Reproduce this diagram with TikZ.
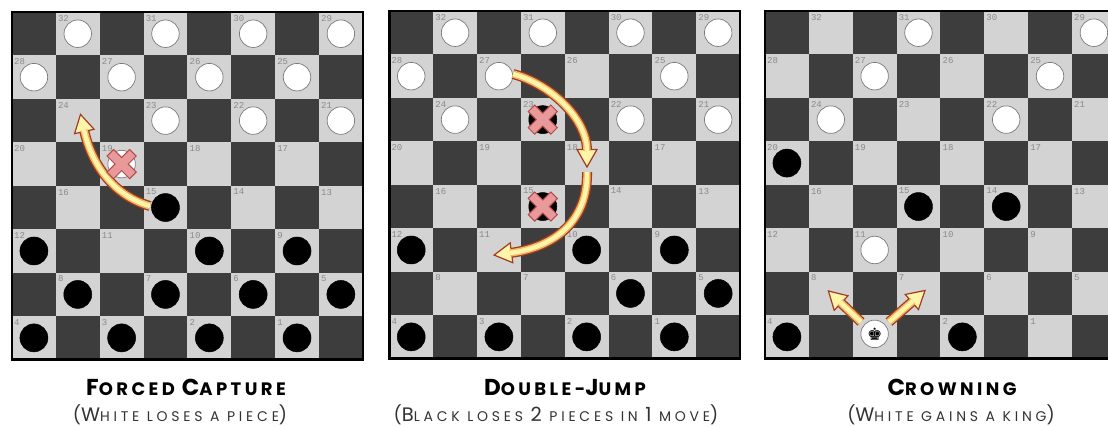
\documentclass[tikz,border=0pt]{standalone}
\usepackage{fontspec}
\setmainfont{Poppins}
\newfontfamily\numfont{Liberation Mono}
\newfontfamily\symfont{DejaVu Sans}
\usetikzlibrary{calc}
\definecolor{darksq}{HTML}{3D3D3D}
\definecolor{lightsq}{HTML}{D3D3D3}
\definecolor{numgray}{HTML}{8A8A8A}
\definecolor{arwedge}{HTML}{A33A22}
\definecolor{arwmid}{HTML}{F0B860}
\definecolor{arwin}{HTML}{FFF5AA}
\definecolor{xfill}{HTML}{E89A9A}
\definecolor{xedge}{HTML}{B54848}
\definecolor{wedge}{HTML}{7A7A7A}

\def\sqw{43.85}
\def\sqh{43.45}

\tikzset{
  numlabel/.style={anchor=north west, inner sep=0pt, text=numgray,
    font=\numfont\fontsize{9}{9}\selectfont},
  boardframe/.style={draw=black, line width=2.5pt},
  wpiece/.style={circle, minimum size=27.5pt, inner sep=0pt, fill=white, draw=wedge, line width=0.7pt},
  bpiece/.style={circle, minimum size=28pt, inner sep=0pt, fill=black, draw=black, line width=0.5pt},
  xmk/.style={fill=xfill, draw=xedge, line width=1pt, line join=miter},
  ttl/.style={anchor=base, inner sep=0pt, font=\bfseries\addfontfeatures{LetterSpace=19}},
  subttl/.style={anchor=base, inner sep=0pt, text=black!80, font=\addfontfeatures{LetterSpace=27}},
}

\newcommand\checkerboard[3]{%
  \fill[darksq] (#1,#2) rectangle ++(8*\sqw,8*\sqh);
  \foreach \ri in {0,...,7}{%
    \foreach \ci in {0,...,7}{%
      \pgfmathtruncatemacro\sqpar{mod(\ri+\ci,2)}%
      \pgfmathtruncatemacro\sqnum{32-4*\ri-floor(\ci/2)}%
      \ifnum\sqpar=1
        \fill[lightsq] (#1+\ci*\sqw,#2+\ri*\sqh) rectangle ++(\sqw,\sqh);
        \node[numlabel] (#3-n\sqnum) at (#1+\ci*\sqw+2,#2+\ri*\sqh+3) {\sqnum};
        \coordinate (#3-\sqnum) at (#1+\ci*\sqw+0.5*\sqw,#2+\ri*\sqh+0.5*\sqh);
      \fi
    }}%
  \draw[boardframe] (#1,#2) rectangle ++(8*\sqw,8*\sqh);
}

\newcommand\whitemen[2]{\foreach \n in {#2}{\node[wpiece] (#1-w\n) at (#1-\n) {};}}
\newcommand\blackmen[2]{\foreach \n in {#2}{\node[bpiece] (#1-b\n) at (#1-\n) {};}}

\newcommand\capx[1]{%
  \begin{scope}[shift={(#1)},rotate=45]
    \filldraw[xmk] (4.6,4.6)--(4.6,16)--(-4.6,16)--(-4.6,4.6)--(-16,4.6)--(-16,-4.6)
      --(-4.6,-4.6)--(-4.6,-16)--(4.6,-16)--(4.6,-4.6)--(16,-4.6)--(16,4.6)--cycle;
  \end{scope}}

% start, control 1, control 2, end (base of head)
\newcommand\fancyarrow[4]{%
  \draw[line width=10pt, arwedge] (#1) .. controls (#2) and (#3) .. (#4);
  \filldraw[fill=arwin, draw=arwedge, line width=1.2pt, line join=miter]
    ($(#4)!-16pt!(#3)$) -- ($($(#4)!1.5pt!(#3)$)!10pt!90:(#3)$)
    -- ($($(#4)!1.5pt!(#3)$)!10pt!-90:(#3)$) -- cycle;
  \draw[line width=7.4pt, arwmid] (#1) .. controls (#2) and (#3) .. (#4);
  \draw[line width=4.4pt, arwin] (#1) .. controls (#2) and (#3) .. (#4);
}

\newcommand\Tbig[1]{{\fontsize{23}{23}\selectfont #1}}
\newcommand\Tsm[1]{{\fontsize{18}{18}\selectfont #1}}
\newcommand\Sbig[1]{{\fontsize{19.5}{20}\selectfont #1}}
\newcommand\Spar[1]{{\fontsize{18}{18}\selectfont #1}}
\newcommand\Ssm[1]{{\fontsize{14}{14}\selectfont #1}}

\begin{document}
\begin{tikzpicture}[x=1pt,y=-1pt]
\useasboundingbox (0,0) rectangle (1108,426);
\clip (0,0) rectangle (1108,426);
\fill[white] (0,0) rectangle (1108,426);

% ---------- Board 1 : forced capture ----------
\checkerboard{12}{12}{b1}
\coordinate (a1s) at (150,206);
\coordinate (a1p) at (118,197);
\coordinate (a1q) at (93,170);
\coordinate (a1e) at (84,130);
\fancyarrow{a1s}{a1p}{a1q}{a1e}
\whitemen{b1}{32,31,30,29,28,27,26,25,23,22,21,19}
\blackmen{b1}{15,12,10,9,8,7,6,5,4,3,2,1}
\capx{b1-19}

% ---------- Board 2 : double jump ----------
\checkerboard{389.3}{11}{b2}
\whitemen{b2}{32,31,30,29,28,27,25,24,22,21}
\blackmen{b2}{23,15,12,10,9,6,5,4,3,2,1}
\capx{b2-23}
\capx{b2-15}
\coordinate (a2s) at (513,74);
\coordinate (a2p) at (550,84);
\coordinate (a2q) at (587,118);
\coordinate (a2e) at (587,151);
\fancyarrow{a2s}{a2p}{a2q}{a2e}
\coordinate (a3s) at (587,172);
\coordinate (a3p) at (588,220);
\coordinate (a3q) at (556,247);
\coordinate (a3e) at (510,253);
\fancyarrow{a3s}{a3p}{a3q}{a3e}

% ---------- Board 3 : crowning ----------
\checkerboard{765}{11}{b3}
\whitemen{b3}{31,29,27,25,24,22,11}
\blackmen{b3}{20,15,14,4,2}
\coordinate (k1s) at (861,322);
\coordinate (k1e) at (840,302);
\coordinate (k2s) at (889,322);
\coordinate (k2e) at (913,301);
\fancyarrow{k1s}{k1s}{k1s}{k1e}
\fancyarrow{k2s}{k2s}{k2s}{k2e}
\node[wpiece, yshift=3pt, font=\symfont\fontsize{17}{17}\selectfont] (b3-king) at (b3-3) {♚};

% ---------- captions ----------
\node[ttl] (t1) at (186,395) {\Tbig{F}\Tsm{ORCED}\hspace{7pt}\Tbig{C}\Tsm{APTURE}};
\node[subttl] (s1) at (180,421) {\Spar{(}\Sbig{W}\Ssm{HITE LOSES A PIECE}\Spar{)}};
\node[ttl] (t2) at (565,395) {\Tbig{D}\Tsm{OUBLE-}\Tbig{J}\Tsm{UMP}};
\node[subttl] (s2) at (556,421) {\Spar{(}\Sbig{B}\Ssm{LACK LOSES }\Sbig{2}\Ssm{ PIECES IN }\Sbig{1}\Ssm{ MOVE}\Spar{)}};
\node[ttl] (t3) at (952,395) {\Tbig{C}\Tsm{ROWNING}};
\node[subttl] (s3) at (951,421) {\Spar{(}\Sbig{W}\Ssm{HITE GAINS A KING}\Spar{)}};
\end{tikzpicture}
\end{document}
